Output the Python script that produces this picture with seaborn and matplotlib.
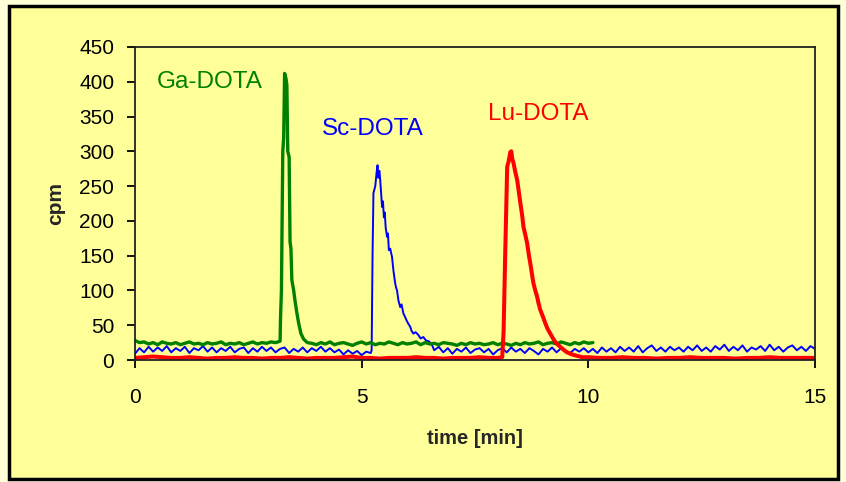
"""
Radio-HPLC chromatograms of Ga-, Sc- and Lu-DOTA (cpm vs. time).
"""

import numpy as np
import pandas as pd
import matplotlib
matplotlib.use('Agg')
import matplotlib.pyplot as plt
from matplotlib.patches import Rectangle
import seaborn as sns

# ---- data ----
# Ga-DOTA (green): baseline, peak, baseline
ga_base1 = [28, 25, 26, 23, 25, 22, 26, 24, 23, 25, 22, 24, 26, 23, 24, 22, 25,
            23, 24, 26, 22, 24, 23, 25, 22, 24, 26, 23, 25, 24, 26, 25, 27]
ga_peak_t = [3.21, 3.23, 3.26, 3.28, 3.30, 3.33, 3.35, 3.37, 3.40, 3.42, 3.44,
             3.46, 3.50, 3.53, 3.57, 3.61, 3.66, 3.72, 3.80]
ga_peak_v = [60, 100, 300, 320, 412, 405, 395, 300, 292, 170, 160,
             115, 100, 85, 68, 53, 38, 30, 25]
ga_base2 = [24, 22, 25, 23, 26, 22, 24, 25, 23, 21, 24, 26, 23, 25, 22, 24, 23,
            26, 24, 22, 25, 23, 24, 26, 22, 25, 23, 24, 22, 25, 24, 23, 21, 24,
            22, 25, 23, 24, 22, 23, 25, 22, 24, 23, 21, 24, 22, 25, 23, 24, 26,
            22, 24, 25, 23, 26, 24, 22, 25, 23, 26, 24, 25]

# Sc-DOTA (blue)
sc_base1 = [9, 17, 11, 19, 12, 18, 13, 20, 11, 17, 13, 19, 10, 17, 14, 20, 12,
            18, 11, 17, 13, 19, 11, 16, 18, 10, 17, 12, 19, 13, 18, 11, 16, 18,
            10, 16, 12, 18, 11, 17, 13, 19, 12, 17, 11, 15, 8, 14, 9, 13, 7,
            12, 10]
sc_peak_t = [5.22, 5.24, 5.26, 5.30, 5.33, 5.35, 5.37, 5.39, 5.41, 5.43, 5.45,
             5.47, 5.49, 5.51, 5.53, 5.56, 5.58, 5.60, 5.63, 5.67, 5.70, 5.72,
             5.74, 5.76, 5.78, 5.81, 5.85, 5.88, 5.92, 5.95, 5.99, 6.03, 6.07,
             6.10, 6.14, 6.19, 6.25, 6.30, 6.36, 6.42, 6.48, 6.55]
sc_peak_v = [14, 150, 240, 250, 270, 280, 262, 272, 258, 240, 220,
             228, 205, 212, 190, 177, 182, 158, 160, 148, 129, 120,
             110, 104, 100, 86, 76, 80, 67, 63, 57, 52, 48,
             42, 38, 40, 36, 31, 33, 28, 27, 22]
sc_base2 = [14, 19, 11, 17, 9, 16, 12, 18, 10, 15, 17, 11, 16, 8, 14,
            17, 11, 18, 12, 16, 10, 17, 13, 8, 16, 12, 18, 11, 17, 13, 10, 16,
            12, 17, 11,
            16, 10, 18, 12, 17, 11, 19, 13, 18, 12, 20, 11, 17, 21, 13, 18, 12,
            19, 14, 18,
            12, 19, 14, 21, 13, 18, 12, 20, 15, 22, 13, 19, 14, 21, 12, 18, 15,
            20, 13, 22, 14, 19, 12, 18, 21, 14, 19, 13, 20, 16]

# Lu-DOTA (red)
lu_base1 = [3, 4, 5, 4, 3, 3, 4, 3, 2, 3, 3, 4, 3, 3, 2, 3, 3, 4, 3, 2, 3, 3, 3,
            4, 5, 3, 3, 2, 3, 3, 3, 4, 3, 3, 2, 3, 3, 3, 4, 3, 3]
lu_peak_t = [8.10, 8.13, 8.17, 8.21, 8.24, 8.28, 8.30, 8.32, 8.35, 8.39, 8.43,
             8.47, 8.50, 8.54, 8.57, 8.61, 8.65, 8.69, 8.72, 8.76, 8.79, 8.83,
             8.87, 8.90, 8.94, 9.00, 9.05, 9.10, 9.16, 9.22, 9.27, 9.33, 9.38,
             9.45, 9.53, 9.64, 9.75, 9.87]
lu_peak_v = [4, 40, 163, 278, 285, 299, 300, 290, 283, 270, 259,
             240, 226, 208, 191, 180, 168, 150, 139, 122, 110, 100,
             91, 82, 72, 62, 53, 45, 38, 31, 26, 22, 19,
             15, 11, 8, 6, 4]
lu_base2 = [4, 3, 3, 4, 3, 3, 2, 3, 3, 4, 3, 3, 3, 2, 3, 3, 4, 3, 3, 3, 3]

labels = ['Ga-DOTA', 'Sc-DOTA', 'Lu-DOTA']
label_pos = [(0.49, 400), (4.13, 332), (7.79, 354)]
colors = ['#008000', '#0000FF', '#FF0000']


def trace(t0, base1, t1, peak_t, peak_v, t2, t3, base2):
    t = np.concatenate([np.linspace(t0, t1, len(base1)), peak_t,
                        np.linspace(t2, t3, len(base2))])
    v = np.concatenate([base1, peak_v, base2])
    return t, v


series = {
    'Ga-DOTA': trace(0.0, ga_base1, 3.2, ga_peak_t, ga_peak_v, 3.9, 10.1, ga_base2),
    'Sc-DOTA': trace(0.0, sc_base1, 5.2, sc_peak_t, sc_peak_v, 6.6, 15.0, sc_base2),
    'Lu-DOTA': trace(0.0, lu_base1, 8.0, lu_peak_t, lu_peak_v, 10.0, 15.0, lu_base2),
}

frames = []
for name, (t, v) in series.items():
    frames.append(pd.DataFrame({'time': t, 'cpm': v, 'sample': name}))
df = pd.concat(frames, ignore_index=True)

# ---- plot ----
sns.set_style('ticks')
plt.rcParams['font.family'] = ['Liberation Sans', 'DejaVu Sans']

bg = '#FFFF99'
fig = plt.figure(figsize=(8.46, 4.82), dpi=100, facecolor='#FFFFD8')
fig.patches.append(Rectangle((9 / 846, 3 / 482), 829 / 846, 473 / 482,
                             transform=fig.transFigure, facecolor=bg,
                             edgecolor='black', linewidth=2.5, zorder=-5))
ax = fig.add_axes([135 / 846, 1 - 360 / 482, 680 / 846, 313 / 482])
ax.set_facecolor(bg)

widths = {'Sc-DOTA': 1.4, 'Ga-DOTA': 2.4, 'Lu-DOTA': 2.9}
for name in ['Sc-DOTA', 'Ga-DOTA', 'Lu-DOTA']:
    sub = df[df['sample'] == name]
    sns.lineplot(data=sub, x='time', y='cpm', ax=ax, estimator=None, sort=False,
                 color=colors[labels.index(name)], linewidth=widths[name])

for name, (x, y), c in zip(labels, label_pos, colors):
    ax.text(x, y, name, color=c, fontsize=17.5, ha='left', va='center')

ax.set_xlim(0, 15)
ax.set_ylim(0, 450)
ax.set_xticks([0, 5, 10, 15])
ax.set_yticks(np.arange(0, 451, 50))
ax.tick_params(direction='out', length=6, width=1.3, labelsize=15, colors='black')
ax.tick_params(axis='y', pad=9)
ax.tick_params(axis='x', pad=14)
for s in ax.spines.values():
    s.set_visible(True)
    s.set_color('#222222')
    s.set_linewidth(1.3)
ax.set_xlabel('time [min]', fontsize=14.5, fontweight='bold', labelpad=16)
ax.set_ylabel('cpm', fontsize=15, fontweight='bold', labelpad=10)

fig.savefig('out.png', dpi=100, facecolor=fig.get_facecolor())
